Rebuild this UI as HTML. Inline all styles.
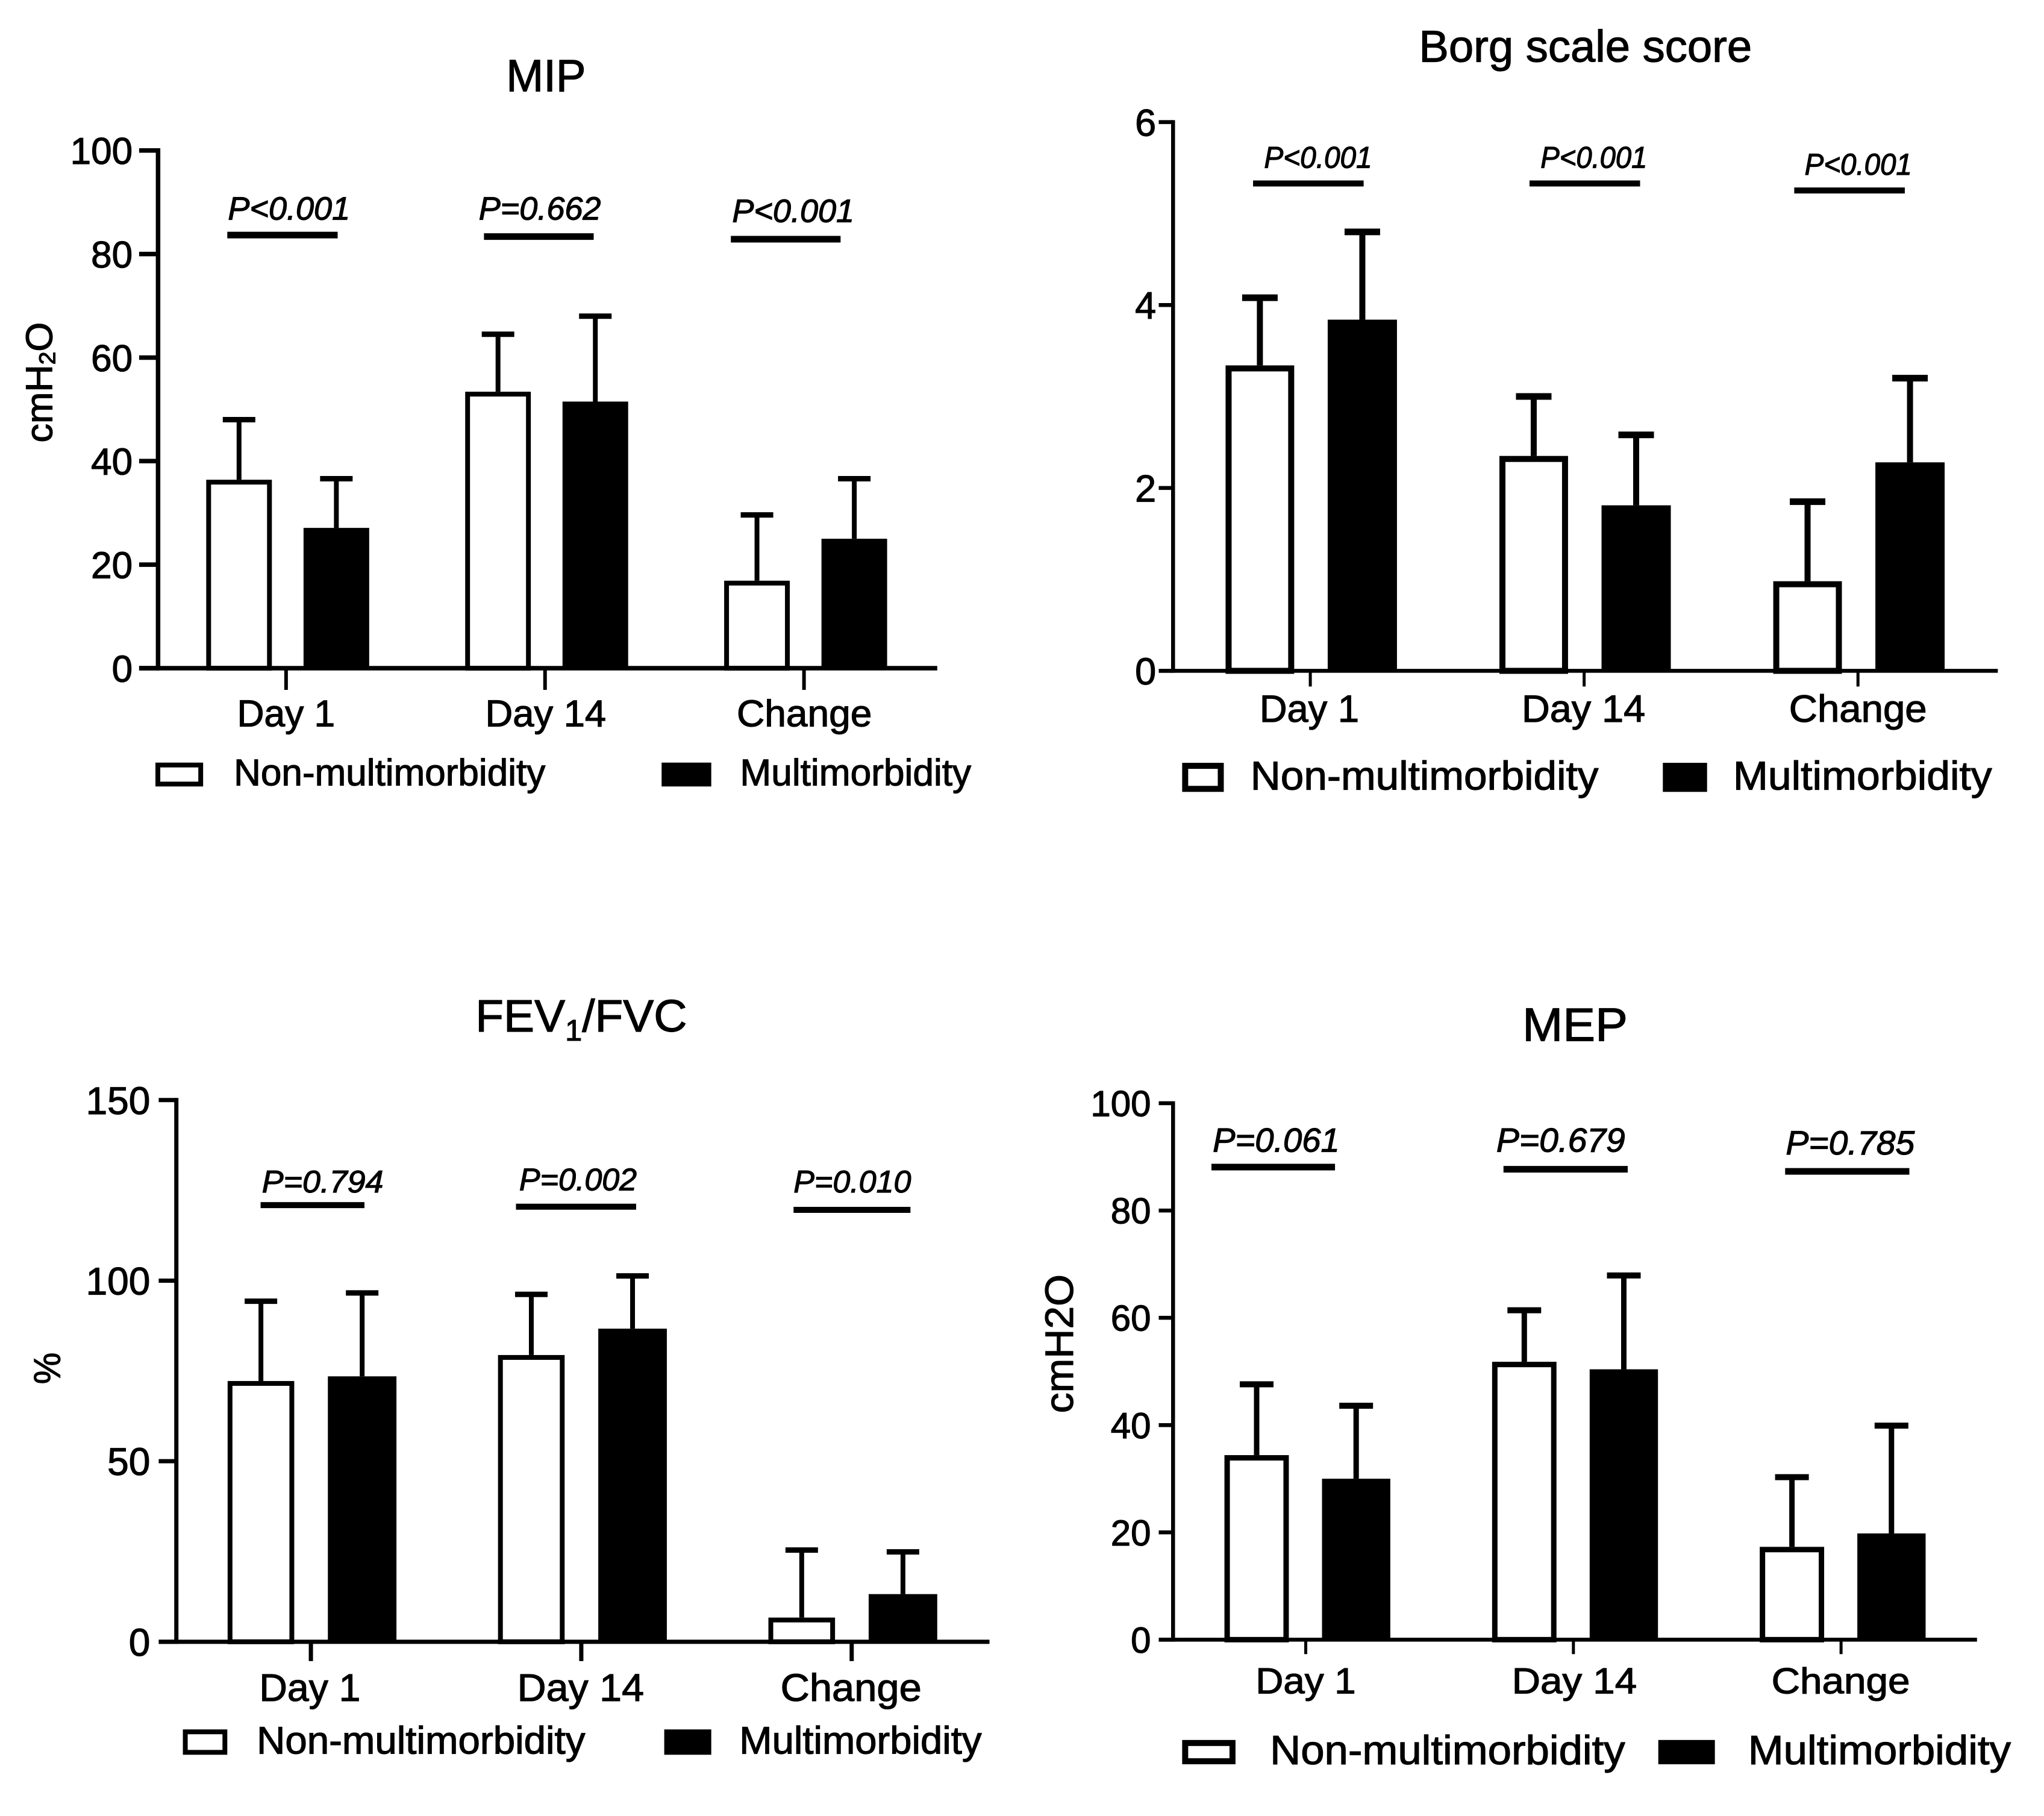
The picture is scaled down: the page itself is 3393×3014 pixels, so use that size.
<!DOCTYPE html>
<html lang="en">
<head>
<meta charset="utf-8">
<title>Respiratory outcomes by multimorbidity</title>
<style>
html,body{margin:0;padding:0;background:#fff;}
svg{display:block;font-family:"Liberation Sans",Arial,sans-serif;}
text{stroke:#000;stroke-width:1.2px;}
</style>
</head>
<body>
<svg id="figure" xmlns="http://www.w3.org/2000/svg" width="3393" height="3014" viewBox="0 0 3393 3014">
<rect width="3393" height="3014" fill="#fff"></rect>
</svg>
<script>
const categories = ['Day 1', 'Day 14', 'Change'];
const legendLabels = ['Non-multimorbidity', 'Multimorbidity'];

const mipTicks = [0, 20, 40, 60, 80, 100];
const mipNon = [36.4, 53.4, 16.9];
const mipMulti = [27.1, 51.5, 25];
const mipNonErr = [48, 64.5, 29.6];
const mipMultiErr = [36.6, 68, 36.6];
const mipP = ['P<0.001', 'P=0.662', 'P<0.001'];

const borgTicks = [0, 2, 4, 6];
const borgNon = [3.34, 2.35, 0.98];
const borgMulti = [3.84, 1.81, 2.28];
const borgNonErr = [4.08, 3.0, 1.85];
const borgMultiErr = [4.8, 2.58, 3.2];
const borgP = ['P<0.001', 'P<0.001', 'P<0.001'];

const fevTicks = [0, 50, 100, 150];
const fevNon = [72.2, 79.4, 6.7];
const fevMulti = [73.5, 86.7, 13.2];
const fevNonErr = [94.3, 96.2, 25.4];
const fevMultiErr = [96.6, 101.3, 24.9];
const fevP = ['P=0.794', 'P=0.002', 'P=0.010'];

const mepTicks = [0, 20, 40, 60, 80, 100];
const mepNon = [34.4, 51.8, 17.3];
const mepMulti = [30, 50.4, 19.8];
const mepNonErr = [47.6, 61.4, 30.3];
const mepMultiErr = [43.6, 67.9, 39.9];
const mepP = ['P=0.061', 'P=0.679', 'P=0.785'];

const svg = document.getElementById('figure');
const NS = 'http://www.w3.org/2000/svg';

function make(tag, parent) {
  const e = document.createElementNS(NS, tag);
  parent.appendChild(e);
  return e;
}
function line(parent, x1, y1, x2, y2, w) {
  const l = make('line', parent);
  l.setAttribute('x1', x1); l.setAttribute('y1', y1);
  l.setAttribute('x2', x2); l.setAttribute('y2', y2);
  l.setAttribute('stroke', '#000'); l.setAttribute('stroke-width', w);
  return l;
}
function box(parent, x, y, w, h, fill, sw) {
  const r = make('rect', parent);
  r.setAttribute('x', x + sw / 2); r.setAttribute('y', y + sw / 2);
  r.setAttribute('width', w - sw); r.setAttribute('height', h - sw);
  r.setAttribute('fill', fill); r.setAttribute('stroke', '#000');
  r.setAttribute('stroke-width', sw);
  return r;
}
function label(parent, s, x, y, fs, len) {
  const t = make('text', parent);
  t.setAttribute('x', x); t.setAttribute('y', y);
  t.setAttribute('font-size', fs); t.setAttribute('fill', '#000');
  t.textContent = s;
  if (len) {
    t.setAttribute('textLength', len);
    t.setAttribute('lengthAdjust', 'spacingAndGlyphs');
  }
  return t;
}

function drawPanel(p) {
  const fx = z => p.ox + z * p.kx;
  const fy = z => p.oy + z * p.ky;
  const L = p.layout;
  const g = make('g', svg);
  
  

  // axis functions
  const yTop = p.ticks[p.ticks.length - 1];
  const yScale = v => fy(L.y0) - (v / yTop) * (fy(L.y0) - fy(L.yTop));
  const xScale = i => fx(L.tick0) + i * (fx(L.tick2) - fx(L.tick0)) / 2;
  const barLeft = (i, s) => xScale(i) + (s === 0 ? L.off0 : L.off1) * p.kx - (s === 0 ? L.w0 : L.w1) * p.kx / 2;
  const barCentre = (i, s) => xScale(i) + (s === 0 ? L.off0 : L.off1) * p.kx;

  // title
  const title = label(g, p.title, fx(L.title[0]), fy(L.title[2]), L.titleFs, (L.title[1] - L.title[0]) * p.kx);
  
  
  if (p.titleSub) {
    const sub = make('tspan', title);
    sub.setAttribute('font-size', L.titleFs * 0.66);
    sub.setAttribute('dy', L.titleFs * 0.2);
    sub.textContent = p.titleSub;
    const rest = make('tspan', title);
    rest.setAttribute('dy', -L.titleFs * 0.2);
    rest.textContent = p.titleRest;
  }

  // y axis label
  if (p.ylabel) {
    const yl = label(g, p.ylabel, 0, 0, L.ylabelFs, (L.ylabelY[1] - L.ylabelY[0]) * p.ky);
    yl.setAttribute('transform', 'translate(' + fx(L.ylabelX) + ',' + fy(L.ylabelY[1]) + ') rotate(-90)');
    
    
    if (p.ylabelSub) {
      const sub = make('tspan', yl);
      sub.setAttribute('font-size', L.ylabelFs * 0.62);
      sub.setAttribute('dy', L.ylabelFs * 0.08);
      sub.textContent = p.ylabelSub;
      const rest = make('tspan', yl);
      rest.setAttribute('dy', -L.ylabelFs * 0.08);
      rest.textContent = p.ylabelRest;
    }
  }

  // bars and error bars
  const series = [
    { vals: p.non, errs: p.nonErr, fill: '#fff', sw: L.barSw, w: L.w0, nm: 'non-multimorbidity' },
    { vals: p.multi, errs: p.multiErr, fill: '#000', sw: 0.01, w: L.w1, nm: 'multimorbidity' }
  ];
  series.forEach((s, si) => {
    s.vals.forEach((v, i) => {
      const c = barCentre(i, si);
      const err = line(g, c, yScale(s.errs[i]), c, yScale(v), L.errSw);
      
      
      const cap = line(g, c - L.capW / 2, yScale(s.errs[i]), c + L.capW / 2, yScale(s.errs[i]), L.capSw);
      
      
      const bar = box(g, barLeft(i, si), yScale(v), s.w * p.kx, yScale(0) - yScale(v) + s.sw / 2, s.fill, s.sw);
      
      
    });
  });

  // y axis
  const ax = line(g, fx(L.axisX), yScale(yTop) - L.tickSw / 2, fx(L.axisX), yScale(0) + L.axisSw / 2, L.axisSw);
  
  
  p.ticks.forEach(v => {
    const t = line(g, fx(L.tickLeft), yScale(v), fx(L.axisX), yScale(v), L.tickSw);
    
    
    const tl = label(g, String(v), fx(L.tickLabelRight), yScale(v) + L.tickFs * 0.36, L.tickFs);
    tl.setAttribute('text-anchor', 'end');
    
    
  });

  // x axis
  const xa = line(g, fx(L.tickLeft), yScale(0), fx(L.axisRight), yScale(0), L.axisSw);
  
  
  categories.forEach((c, i) => {
    const t = line(g, xScale(i), yScale(0), xScale(i), yScale(0) + L.xTickLen, L.xTickSw);
    
    
    const span = L.cats[i];
    const tl = label(g, c, fx(span[0]), fy(L.catBase), L.tickFs, (span[1] - span[0]) * p.kx);
    
    
  });

  // p-value annotations
  p.pvals.forEach((s, i) => {
    const a = L.pAnn[i];
    const t = label(g, s, fx(a[0]), fy(a[2]), L.pFs, (a[1] - a[0]) * p.kx);
    t.setAttribute('font-style', 'italic');
    
    
    const b = line(g, fx(a[3]), fy(a[5]), fx(a[4]), fy(a[5]), L.pSw);
    
    
  });

  // legend
  const lg = make('g', g);
  
  
  const [y0, y1] = L.legY;
  const k0 = box(lg, fx(L.leg0[0]), fy(y0), (L.leg0[1] - L.leg0[0]) * p.kx, (y1 - y0) * p.ky, '#fff', L.legSw);
  
  
  const t0 = label(lg, legendLabels[0], fx(L.leg0[2]), fy(L.legBase), L.legFs, (L.leg0[3] - L.leg0[2]) * p.kx);
  
  
  const k1 = box(lg, fx(L.leg1[0]), fy(y0), (L.leg1[1] - L.leg1[0]) * p.kx, (y1 - y0) * p.ky, '#000', 0.01);
  
  
  const t1 = label(lg, legendLabels[1], fx(L.leg1[2]), fy(L.legBase), L.legFs, (L.leg1[3] - L.leg1[2]) * p.kx);
  
  
}

const mipLayout = {
  axisX: 242, yTop: 232, y0: 1230, axisRight: 1435, tickLeft: 213, tick0: 438, tick2: 1231,
  off0: -72, off1: 77, w0: 100.5, w1: 100.5, barSw: 8, errSw: 8, capW: 54, capSw: 9,
  axisSw: 7.5, tickSw: 7.5, xTickSw: 6, xTickLen: 36, tickLabelRight: 203, tickFs: 62,
  title: [775, 897, 118], titleFs: 75, ylabelFs: 62, ylabelX: 80, ylabelY: [563, 795],
  catBase: 1342, cats: [[363, 513], [743, 928], [1128, 1335]],
  pFs: 54, pSw: 11,
  pAnn: [[349, 536, 365, 348, 517, 395], [733, 920, 365, 741, 909, 398], [1121, 1308, 370, 1119, 1287, 403]],
  legY: [1412, 1458], legBase: 1456, legFs: 62, legSw: 8,
  leg0: [238, 311, 358, 835], leg1: [1013, 1089, 1133, 1487]
};
const borgLayout = {
  axisX: 229, yTop: 227, y0: 1247, axisRight: 1497, tickLeft: 207, tick0: 440, tick2: 1282,
  off0: -77.5, off1: 80, w0: 105.5, w1: 106.5, barSw: 10, errSw: 10, capW: 59, capSw: 11,
  axisSw: 6.5, tickSw: 6.5, xTickSw: 5, xTickLen: 26, tickLabelRight: 203, tickFs: 63,
  title: [607, 1119, 115], titleFs: 74, ylabelFs: 62, ylabelX: 0, ylabelY: [0, 0],
  catBase: 1342, cats: [[362, 515], [765, 955], [1176, 1388]],
  pFs: 50, pSw: 10,
  pAnn: [[369, 535, 312, 352, 522, 341], [794, 958, 312, 777, 947, 341], [1200, 1365, 325, 1184, 1354, 354]],
  legY: [1418, 1472], legBase: 1468, legFs: 67, legSw: 10,
  leg0: [243, 307, 348, 883], leg1: [982, 1050, 1090, 1488]
};
const fevLayout = {
  axisX: 270, yTop: 212, y0: 1238, axisRight: 1515, tickLeft: 243, tick0: 476, tick2: 1304,
  off0: -76.5, off1: 78.5, w0: 102, w1: 105, barSw: 8, errSw: 8, capW: 54, capSw: 9,
  axisSw: 7, tickSw: 7, xTickSw: 7, xTickLen: 32, tickLabelRight: 230, tickFs: 64,
  title: [728, 1052, 82], titleFs: 75, ylabelFs: 62, ylabelX: 92, ylabelY: [690, 750],
  catBase: 1350, cats: [[397, 552], [792, 986], [1195, 1411]],
  pFs: 52, pSw: 10,
  pAnn: [[401, 587, 387, 399, 558, 411], [795, 975, 383, 790, 974, 414], [1215, 1395, 387, 1215, 1394, 420]],
  legY: [1404, 1452], legBase: 1450, legFs: 64, legSw: 8,
  leg0: [280, 348, 393, 896], leg1: [1017, 1089, 1132, 1503]
};
const mepLayout = {
  axisX: 229, yTop: 218, y0: 1234, axisRight: 1465, tickLeft: 207, tick0: 433, tick2: 1256,
  off0: -75.5, off1: 77.5, w0: 99, w1: 105, barSw: 9, errSw: 9, capW: 56, capSw: 10,
  axisSw: 6.5, tickSw: 6.5, xTickSw: 5, xTickLen: 24, tickLabelRight: 195, tickFs: 60,
  title: [766, 928, 100], titleFs: 78, ylabelFs: 66, ylabelX: 75, ylabelY: [542, 805],
  catBase: 1336, cats: [[356, 510], [750, 942], [1149, 1362]],
  pFs: 56, pSw: 11,
  pAnn: [[290, 485, 310, 288, 478, 339], [726, 924, 310, 737, 928, 343], [1171, 1369, 315, 1170, 1361, 347]],
  legY: [1424, 1470], legBase: 1470, legFs: 68, legSw: 10,
  leg0: [243, 325, 378, 924], leg1: [975, 1062, 1113, 1517]
};

drawPanel({ name: 'mip', ox: 0, oy: 50, kx: 1700 / 1568, ky: 1350 / 1568, title: 'MIP', ylabel: 'cmH', ylabelSub: '2', ylabelRest: 'O',
  ticks: mipTicks, non: mipNon, multi: mipMulti, nonErr: mipNonErr, multiErr: mipMultiErr, pvals: mipP, layout: mipLayout });
drawPanel({ name: 'borg', ox: 1700, oy: 0, kx: 1693 / 1568, ky: 1400 / 1568, title: 'Borg scale score', ylabel: '',
  ticks: borgTicks, non: borgNon, multi: borgMulti, nonErr: borgNonErr, multiErr: borgMultiErr, pvals: borgP, layout: borgLayout });
drawPanel({ name: 'fev', ox: 0, oy: 1640, kx: 1700 / 1568, ky: 1374 / 1568, title: 'FEV', titleSub: '1', titleRest: '/FVC', ylabel: '%',
  ticks: fevTicks, non: fevNon, multi: fevMulti, nonErr: fevNonErr, multiErr: fevMultiErr, pvals: fevP, layout: fevLayout });
drawPanel({ name: 'mep', ox: 1700, oy: 1640, kx: 1693 / 1568, ky: 1374 / 1568, title: 'MEP', ylabel: 'cmH2O',
  ticks: mepTicks, non: mepNon, multi: mepMulti, nonErr: mepNonErr, multiErr: mepMultiErr, pvals: mepP, layout: mepLayout });
</script>
</body>
</html>
